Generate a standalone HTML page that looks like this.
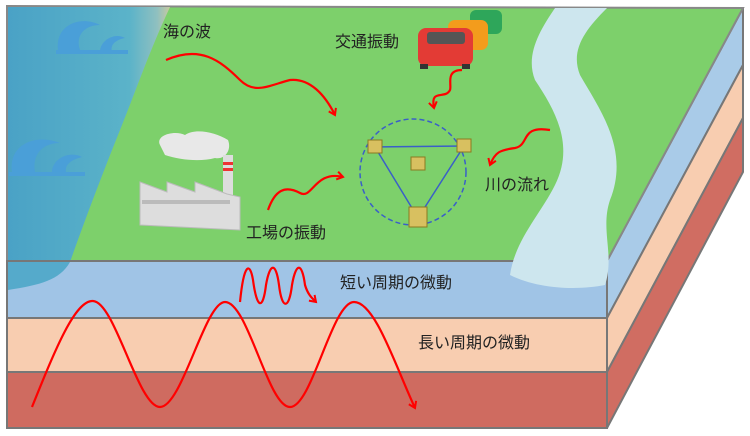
<!DOCTYPE html>
<html><head><meta charset="utf-8"><style>
html,body{margin:0;padding:0;background:#fff;}
svg{display:block}
text{font-family:"Liberation Sans","Noto Sans CJK JP",sans-serif;fill:#222;font-size:16px}
</style></head><body>
<svg width="750" height="436" viewBox="0 0 750 436">
<defs>
<linearGradient id="sea" x1="0" y1="0" x2="1" y2="0">
<stop offset="0" stop-color="#4aa2c6"/><stop offset="0.75" stop-color="#5bb3c9"/><stop offset="0.92" stop-color="#8fc0c0"/><stop offset="1" stop-color="#c8c9a0"/></linearGradient>
<marker id="ar" markerWidth="10" markerHeight="10" refX="7" refY="5" orient="auto" markerUnits="userSpaceOnUse"><path d="M1,1 L7,5 L1,9" fill="none" stroke="#f00" stroke-width="2"/></marker>
</defs>
<polygon points="607,261 743,8 743,65 607,318" fill="#a9cbe8" stroke="#777" stroke-width="2"/>
<polygon points="607,318 743,65 743,118 607,372" fill="#f8cdb0" stroke="#777" stroke-width="2"/>
<polygon points="607,372 743,118 743,172 607,428" fill="#d06d62" stroke="#777" stroke-width="2"/>
<polygon points="7,6 743,8 607,261 7,261" fill="#7dd06b" stroke="#888" stroke-width="2"/>
<path d="M8,7 L170,7 C150,50 140,80 120,130 C100,180 85,220 70,262 L8,262 Z" fill="url(#sea)"/>
<rect x="7" y="261" width="600" height="57" fill="#a0c4e6" stroke="#777" stroke-width="2"/>
<rect x="7" y="318" width="600" height="54" fill="#f8cdb0" stroke="#777" stroke-width="2"/>
<rect x="7" y="372" width="600" height="56" fill="#cf6b60" stroke="#777" stroke-width="2"/>
<path d="M8,262 L70,262 C60,280 40,285 8,290 Z" fill="#55aacb"/>
<path d="M555,8 L607,8 C585,30 570,50 580,75 C600,110 630,150 610,200 C600,230 615,255 605,285 C580,290 540,290 510,275 C515,240 540,215 555,185 C575,145 555,110 535,80 C525,55 540,30 555,8 Z" fill="#cde6ee"/>
<g fill="#4a9fd8"><path d="M58,50 C55,25 80,15 100,25 C85,25 75,35 80,50 Z"/><path d="M100,52 C100,40 115,32 125,38 C115,40 110,45 112,52 Z"/><rect x="56" y="50" width="72" height="4"/>
<path d="M12,172 C8,145 35,133 60,143 C42,143 32,155 35,172 Z"/><path d="M52,172 C52,160 68,150 82,157 C70,160 65,165 66,172 Z"/><rect x="9" y="172" width="76" height="4"/></g>
<path d="M160,145 C155,135 175,130 185,135 C195,128 215,132 228,140 C232,150 225,160 215,158 C200,162 180,160 165,155 Z" fill="#e8e8e8"/>
<rect x="223" y="155" width="10" height="40" fill="#ddd"/><rect x="223" y="162" width="10" height="3" fill="#e33"/><rect x="223" y="168" width="10" height="3" fill="#e33"/>
<polygon points="140,182 167,192 167,182 195,192 195,182 227,194 240,197 240,230 140,225" fill="#ddd" stroke="#bbb"/>
<rect x="142" y="200" width="88" height="4" fill="#bbb"/>
<rect x="470" y="10" width="32" height="24" rx="6" fill="#2ea65a"/>
<rect x="448" y="20" width="40" height="30" rx="7" fill="#f39c1c"/>
<rect x="418" y="28" width="55" height="38" rx="8" fill="#e33b35"/>
<rect x="427" y="32" width="38" height="12" rx="3" fill="#555"/>
<rect x="420" y="64" width="8" height="5" fill="#333"/><rect x="462" y="64" width="8" height="5" fill="#333"/>
<circle cx="413" cy="172" r="53" fill="none" stroke="#3a5fc8" stroke-width="1.5" stroke-dasharray="5,3"/>
<polygon points="375,147 464,146 418,218" fill="none" stroke="#3a5fc8" stroke-width="1.5"/>
<g fill="#d8c060" stroke="#8a7a20"><rect x="368" y="140" width="14" height="13"/><rect x="457" y="139" width="14" height="13"/><rect x="411" y="157" width="14" height="13"/><rect x="409" y="207" width="18" height="20"/></g>
<g fill="none" stroke="#f00" stroke-width="2.2" marker-end="url(#ar)">
<path d="M166,60 C200,45 220,60 240,80 C255,95 270,85 290,80 C310,78 325,95 335,115"/>
<path d="M268,210 C275,190 285,185 300,193 C312,200 315,170 343,177"/>
<path d="M462,70 C445,70 452,85 450,90 C445,100 430,88 434,108"/>
<path d="M550,130 C520,125 530,145 515,148 C500,150 495,152 490,165"/>
<path d="M240,302 C244,262 250,262 253,280 C257,310 263,310 266,285 C270,262 276,262 279,285 C282,310 289,310 292,285 C296,262 302,262 305,285 C308,295 312,298 316,302"/>
<path d="M32,407 C55,350 75,300 93,301 C115,302 138,407 160,407 C182,407 205,302 225,302 C248,302 268,407 290,407 C312,407 332,302 354,302 C375,302 395,365 415,408"/>
</g>
<text x="163" y="37">海の波</text>
<text x="335" y="47">交通振動</text>
<text x="485" y="190">川の流れ</text>
<text x="246" y="238">工場の振動</text>
<text x="340" y="288">短い周期の微動</text>
<text x="418" y="348">長い周期の微動</text>
</svg>
</body></html>
